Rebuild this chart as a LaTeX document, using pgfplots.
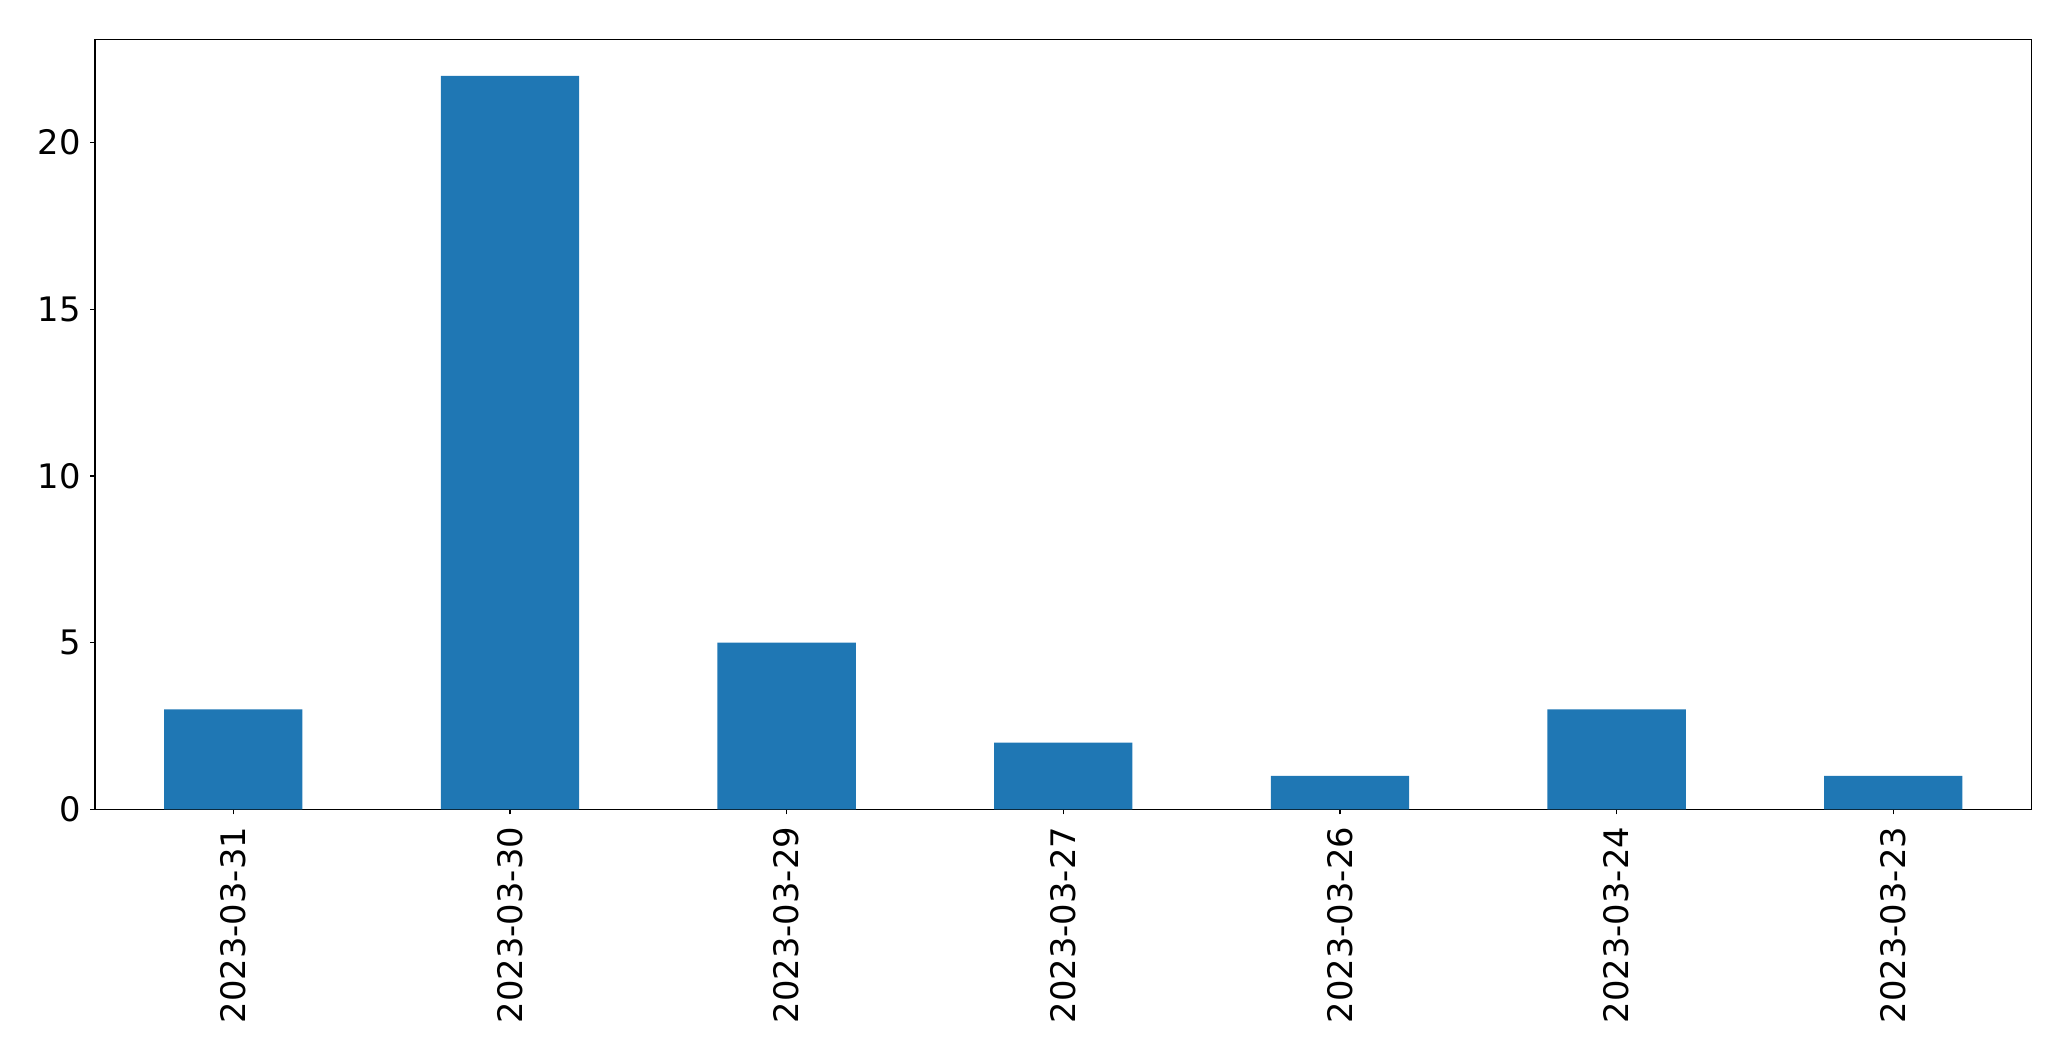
\documentclass[border=0pt]{standalone}
\usepackage{pgfplots}
\pgfplotsset{compat=1.18}
\usepackage{fontspec}
\setmainfont{DejaVu Sans}
\definecolor{mplblue}{HTML}{1F77B4}
\begin{document}
\begin{tikzpicture}
\useasboundingbox (-68.4pt,-181.2pt) rectangle (1422.7pt,582.7pt);
\begin{axis}[
  at={(0,0)}, anchor=south west,
  scale only axis,
  width=1394.4pt, height=554.4pt,
  xmin=-0.5, xmax=6.5, ymin=0, ymax=23.1,
  xtick={0,1,2,3,4,5,6},
  xticklabels={2023-03-31,2023-03-30,2023-03-29,2023-03-27,2023-03-26,2023-03-24,2023-03-23},
  ytick={0,5,10,15,20},
  tick align=outside,
  tick pos=left,
  major tick length=3.6pt,
  tick style={black, line width=0.9pt},
  axis line style={line width=0.9pt},
  /pgf/number format/assume math mode=true,
  ticklabel style={font=\fontsize{24.3}{29}\selectfont, inner sep=0pt},
  xticklabel style={rotate=90, anchor=east},
  yticklabel style={anchor=east},
  xticklabel shift=8.9pt,
  yticklabel shift=6.5pt,
  axis on top=false,
]
\addplot[ybar, bar width=0.5, fill=mplblue, draw=none] coordinates {
  (0,3) (1,22) (2,5) (3,2) (4,1) (5,3) (6,1)
};
\end{axis}
\end{tikzpicture}
\end{document}
